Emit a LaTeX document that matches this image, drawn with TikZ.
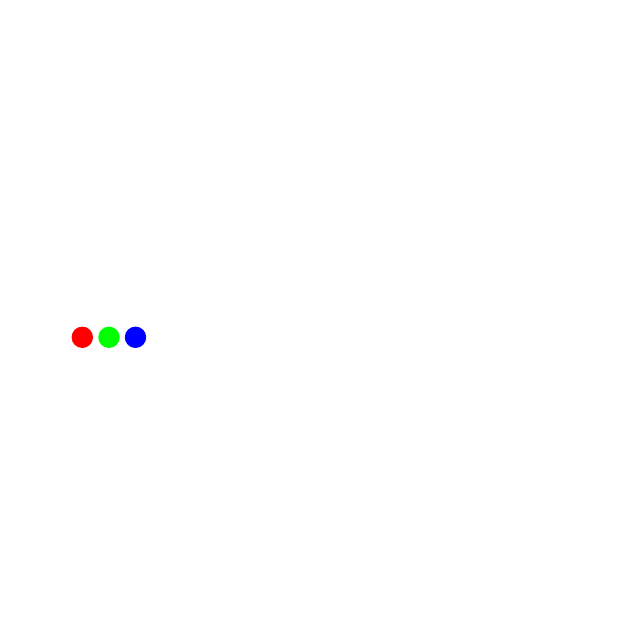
\documentclass[tikz,border=0pt]{standalone}
\begin{document}
\begin{tikzpicture}[x=1pt,y=1pt,
  dot/.style={circle,inner sep=0pt,minimum size=21.4pt,draw=none}]
\useasboundingbox (0,0) rectangle (640,640);
\fill[white] (0,0) rectangle (640,640);
\node[dot,fill={rgb,255:red,255;green,0;blue,0}] (r) at (82.3,302.7) {};
\node[dot,fill={rgb,255:red,0;green,255;blue,0}] (g) at (109,302.7) {};
\node[dot,fill={rgb,255:red,0;green,0;blue,255}] (b) at (135.5,302.7) {};
\end{tikzpicture}
\end{document}
